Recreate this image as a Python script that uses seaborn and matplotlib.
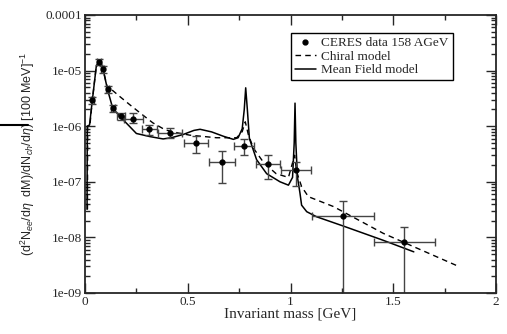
import numpy as np
import pandas as pd
import matplotlib
matplotlib.use("Agg")
import matplotlib.pyplot as plt
import seaborn as sns
from matplotlib.lines import Line2D
from matplotlib.ticker import FixedLocator, LogLocator, NullFormatter

# CERES data 158 AGeV
data_mass = [0.036, 0.068, 0.086, 0.110, 0.135, 0.174, 0.235, 0.313, 0.414, 0.540,
             0.665, 0.775, 0.889, 1.027, 1.254, 1.554]
data_y = [2.9e-6, 1.45e-5, 1.05e-5, 4.6e-6, 2.1e-6, 1.5e-6, 1.36e-6, 9.0e-7, 7.4e-7, 4.9e-7,
          2.3e-7, 4.4e-7, 2.1e-7, 1.63e-7, 2.4e-8, 8.3e-9]
data_xerr = [0.008, 0.008, 0.008, 0.008, 0.010, 0.020, 0.045, 0.037, 0.060, 0.060,
             0.063, 0.049, 0.058, 0.075, 0.150, 0.150]
data_ylo = [2.5e-6, 1.25e-5, 9.0e-6, 4.0e-6, 1.8e-6, 1.3e-6, 1.16e-6, 6.95e-7, 6.05e-7, 3.26e-7,
            9.4e-8, 3.03e-7, 1.11e-7, 8.4e-8, 1e-10, 1e-10]
data_yhi = [3.3e-6, 1.65e-5, 1.2e-5, 5.2e-6, 2.4e-6, 1.7e-6, 1.73e-6, 1.05e-6, 9.2e-7, 6.67e-7,
            3.58e-7, 5.8e-7, 3.03e-7, 2.3e-7, 4.57e-8, 1.54e-8]

# Chiral model
chiral_mass = [0.012, 0.013, 0.024, 0.036, 0.055, 0.068, 0.078, 0.088, 0.110, 0.122,
               0.170, 0.220, 0.280, 0.330, 0.390, 0.450, 0.510, 0.640, 0.738, 0.765,
               0.780, 0.795, 0.820, 0.870, 0.930, 0.990, 1.010, 1.020, 1.030, 1.054,
               1.087, 1.208, 1.452, 1.810]
chiral_y = [3.2e-8, 1.0e-6, 1.05e-6, 3.0e-6, 1.2e-5, 1.45e-5, 1.4e-5, 1.05e-5, 4.7e-6, 4.8e-6,
            3.4e-6, 2.4e-6, 1.6e-6, 1.15e-6, 8.6e-7, 7.6e-7, 6.9e-7, 6.2e-7, 6.2e-7, 8.0e-7,
            1.2e-6, 7.0e-7, 4.0e-7, 2.2e-7, 1.4e-7, 1.2e-7, 2.2e-7, 3.0e-7, 1.5e-7, 8.2e-8,
            5.4e-8, 3.6e-8, 1.18e-8, 3.1e-9]

# Mean Field model
mf_mass = [0.010, 0.011, 0.022, 0.036, 0.055, 0.068, 0.078, 0.088, 0.110, 0.135,
           0.170, 0.200, 0.250, 0.316, 0.380, 0.420, 0.478, 0.530, 0.560, 0.616,
           0.673, 0.722, 0.745, 0.765, 0.775, 0.782, 0.790, 0.800, 0.835, 0.884,
           0.949, 0.990, 1.010, 1.018, 1.022, 1.026, 1.034, 1.046, 1.054, 1.079,
           1.127, 1.257, 1.450, 1.600]
mf_y = [3.2e-8, 1.0e-6, 1.05e-6, 3.0e-6, 1.2e-5, 1.45e-5, 1.4e-5, 1.05e-5, 4.5e-6, 2.1e-6,
        1.5e-6, 1.15e-6, 7.4e-7, 6.5e-7, 5.9e-7, 6.2e-7, 7.1e-7, 8.4e-7, 8.8e-7, 7.9e-7,
        6.6e-7, 5.8e-7, 6.2e-7, 9.0e-7, 2.0e-6, 4.9e-6, 2.0e-6, 6.0e-7, 2.5e-7, 1.4e-7,
        1.0e-7, 8.7e-8, 1.2e-7, 5.0e-7, 2.6e-6, 5.0e-7, 1.2e-7, 6.3e-8, 3.8e-8, 2.9e-8,
        2.35e-8, 1.6e-8, 8.9e-9, 5.5e-9]

ytick_vals = [1e-9, 1e-8, 1e-7, 1e-6, 1e-5, 1e-4]
ytick_labels = ["1e-09", "1e-08", "1e-07", "1e-06", "1e-05", "0.0001"]
xtick_vals = [0, 0.5, 1, 1.5, 2]
xtick_labels = ["0", "0.5", "1", "1.5", "2"]

sns.set_style("ticks")
plt.rcParams["font.family"] = ["Liberation Serif", "DejaVu Serif"]
plt.rcParams["mathtext.fontset"] = "custom"
plt.rcParams["mathtext.rm"] = "Liberation Sans"
plt.rcParams["mathtext.it"] = "Liberation Sans:italic"

fig = plt.figure(figsize=(5.07, 3.34), dpi=100)
ax = fig.add_axes([85 / 507, 1 - 293 / 334, 411 / 507, 278 / 334])

chiral_df = pd.DataFrame({"mass": chiral_mass, "y": chiral_y})
mf_df = pd.DataFrame({"mass": mf_mass, "y": mf_y})

sns.lineplot(data=chiral_df, x="mass", y="y", ax=ax, color="black", lw=1.0,
             linestyle=(0, (4, 3)), sort=False, estimator=None)
sns.lineplot(data=mf_df, x="mass", y="y", ax=ax, color="black", lw=1.1,
             sort=False, estimator=None)

yerr = [np.array(data_y) - np.array(data_ylo), np.array(data_yhi) - np.array(data_y)]
ax.errorbar(data_mass, data_y, xerr=data_xerr, yerr=yerr, fmt="none",
            ecolor="#444444", elinewidth=1.0, capsize=3, capthick=1.0)
ax.plot(data_mass, data_y, "o", color="black", ms=3.5)

ax.set_yscale("log")
ax.set_xlim(0, 2)
ax.set_ylim(1e-9, 1e-4)

ax.xaxis.set_major_locator(FixedLocator(xtick_vals))
ax.set_xticklabels(xtick_labels)
ax.xaxis.set_minor_locator(FixedLocator([0.25, 0.75, 1.25, 1.75]))
ax.yaxis.set_major_locator(FixedLocator(ytick_vals))
ax.set_yticklabels(ytick_labels)
ax.yaxis.set_minor_locator(LogLocator(base=10, subs=np.arange(2, 10)))
ax.yaxis.set_minor_formatter(NullFormatter())

ax.tick_params(which="both", direction="in", top=True, right=True, labelsize=9.5,
               pad=2, width=1.0)
ax.tick_params(which="major", length=7)
ax.tick_params(which="minor", length=3.5)
for s in ax.spines.values():
    s.set_linewidth(1.3)

ax.set_xlabel("Invariant mass [GeV]", fontsize=11, labelpad=0)
ax.set_ylabel(r"(d$^2$N$_{ee}$/d$\eta$  dM)/dN$_{ch}$/d$\eta$) [100 MeV]$^{-1}$",
              fontsize=9, family=["Liberation Sans", "DejaVu Sans"], labelpad=6)

handles = [
    Line2D([], [], color="black", marker="o", ms=3.5, linestyle="none"),
    Line2D([], [], color="black", lw=1.0, linestyle=(0, (4, 3))),
    Line2D([], [], color="black", lw=1.1),
]
leg = ax.legend(handles, ["CERES data 158 AGeV", "Chiral model", "Mean Field model"],
                loc="upper left", bbox_to_anchor=(0.501, 0.935), fontsize=9.5,
                frameon=True, fancybox=False, framealpha=1, edgecolor="black",
                handlelength=1.6, handletextpad=0.4, borderpad=0.3, labelspacing=0.1,
                borderaxespad=0)
leg.get_frame().set_linewidth(1.0)

# stray mark at the left edge of the figure
fig.add_artist(Line2D([0, 28 / 507], [1 - 125 / 334] * 2, color="black", lw=1.5,
                      transform=fig.transFigure))

fig.savefig("out.png", dpi=100)
